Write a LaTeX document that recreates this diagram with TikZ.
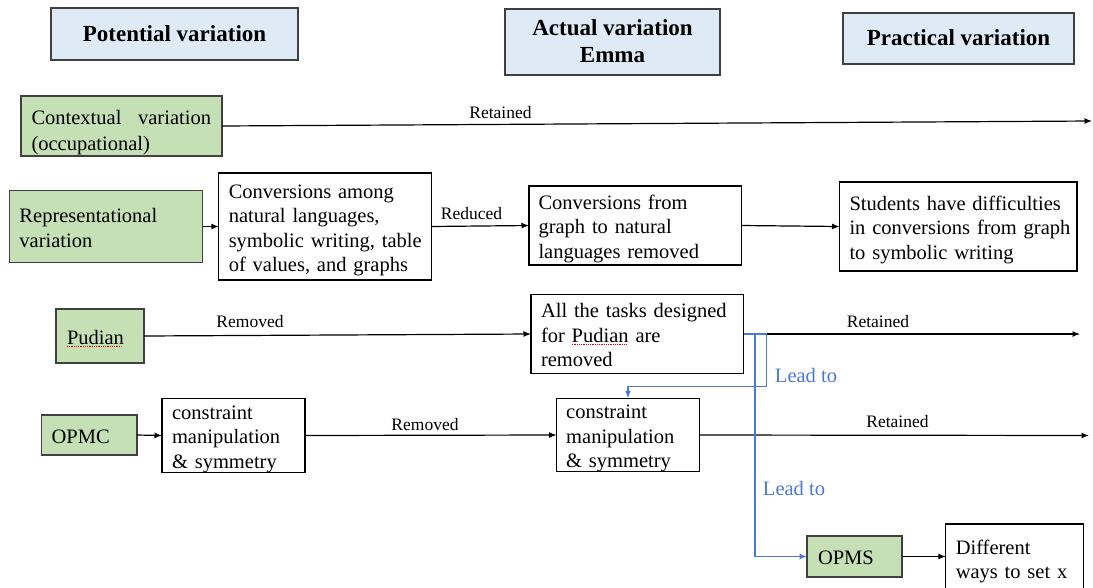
\documentclass[tikz,border=0pt]{standalone}
\usepackage{fontspec}
\setmainfont{Liberation Serif}
\usetikzlibrary{arrows.meta}
\definecolor{hdrfill}{HTML}{DEEBF7}
\definecolor{grnfill}{HTML}{C5E0B4}
\definecolor{linkblue}{HTML}{4A7BD0}
\definecolor{edgegray}{HTML}{404040}
\newsavebox\spbox
\newcommand\spellmark[1]{\sbox\spbox{#1}\rlap{\textcolor{red!85!black}{\leaders\hbox{\rule[-2.6pt]{1pt}{0.6pt}\kern0.8pt}\hskip\wd\spbox}}\usebox\spbox}
\newcommand\lns[2][-3.5pt]{\raisebox{#1}[\height][\depth]{\begin{tabular}{@{}l@{}}#2\end{tabular}}}
\newcommand\hdrtext[2][-2pt]{\raisebox{#1}[\height][\depth]{\begin{tabular}{@{}c@{}}#2\end{tabular}}}
\begin{document}
\begin{tikzpicture}[x=1pt,y=-1pt,
  every node/.style={inner sep=0pt,outer sep=0pt},
  hdrbox/.style={draw=edgegray,line width=1.4pt,fill=hdrfill,align=center,
    font=\fontsize{23}{27}\selectfont\bfseries},
  txt/.style={font=\fontsize{20.5}{24.5}\selectfont,align=left},
  wbox/.style={txt,draw=black,line width=1.3pt,fill=white},
  gbox/.style={txt,draw=edgegray,line width=1.4pt,fill=grnfill},
  lbl/.style={font=\fontsize{17.5}{20}\selectfont},
  bluelbl/.style={font=\fontsize{20.5}{24}\selectfont,text=linkblue},
  conn/.style={draw=black,line width=1.2pt,-{Latex[length=7.5pt,width=6pt]}},
  link/.style={draw=linkblue,line width=1.3pt,-{Latex[length=7.5pt,width=6pt]}}
]
\clip (0,0) rectangle (1093,587);
\fill[white] (0,0) rectangle (1093,587);

% headers
\node[hdrbox,minimum width=247pt,minimum height=52pt] (h1) at (174.5,34) {\hdrtext{Potential variation}};
\node[hdrbox,minimum width=215pt,minimum height=66pt] (h2) at (612.5,42) {\hdrtext{Actual variation\\Emma}};
\node[hdrbox,minimum width=231pt,minimum height=51pt] (h3) at (958.5,38.5) {\hdrtext[-1.5pt]{Practical variation}};

% row 1
\node[gbox,minimum width=201pt,minimum height=60pt,text width=180pt,
  font=\fontsize{20.5}{26.5}\selectfont] (ctx) at (121.5,126)
  {\lns[-6pt]{\makebox[179.5pt][l]{Contextual\hfill variation}\\(occupational)}};
\coordinate (ctxend) at (1092,121);

% row 2
\node[gbox,minimum width=193pt,minimum height=72pt,text width=173pt] (rep) at (106,226.5)
  {\lns{Representational\\variation}};
\node[wbox,minimum width=212.5pt,minimum height=107pt,text width=192.5pt] (conv) at (325,226.5)
  {\lns{Conversions among\\natural languages,\\symbolic writing, table\\of values, and graphs}};
\node[wbox,minimum width=212.5pt,minimum height=79pt,text width=193.5pt] (cgr) at (635.25,225.5)
  {\lns{Conversions from\\graph to natural\\languages removed}};
\node[wbox,minimum width=237.5pt,minimum height=89pt,text width=217.5pt] (stu) at (958.25,226.5)
  {\lns{Students have difficulties\\in conversions from graph\\to symbolic writing}};

% row 3
\node[gbox,minimum width=88pt,minimum height=54pt,text width=66pt] (pud) at (100,336)
  {\lns{\spellmark{Pudian}}};
\node[wbox,minimum width=212.5pt,minimum height=79pt,text width=192.5pt] (tasks) at (637.25,334)
  {\lns{All the tasks designed\\for \spellmark{Pudian} are\\removed}};
\coordinate (j1) at (755,334);
\coordinate (j2) at (766.5,334);
\coordinate (r3end) at (1080,334);

% row 4
\node[gbox,minimum width=95.3pt,minimum height=40pt,text width=75.3pt] (opmc) at (89.3,435)
  {\lns{OPMC}};
\node[wbox,minimum width=143pt,minimum height=73pt,text width=123pt] (cpot) at (233.5,435.5)
  {\lns{constraint\\manipulation\\\& symmetry}};
\node[wbox,minimum width=143pt,minimum height=73pt,text width=123.6pt] (cact) at (628,435)
  {\lns{constraint\\manipulation\\\& symmetry}};
\coordinate (r4end) at (1089,435.5);

% row 5
\node[gbox,minimum width=95pt,minimum height=41pt,text width=73pt] (opms) at (854.5,556.5)
  {\lns{OPMS}};
\node[wbox,minimum width=137.5pt,minimum height=68pt,text width=117.5pt] (diff) at (1014.5,558)
  {\lns{Different\\ways to set x}};

% connectors
\draw[conn] (ctx.east) -- (ctxend);
\draw[conn] (rep.east) -- (conv.west);
\draw[conn] (conv.east) -- (cgr.west);
\draw[conn] (cgr.east) -- (stu.west);
\draw[conn] (pud.east) -- (tasks.west);
\draw[conn] (j2) -- (r3end);
\draw[conn] (opmc.east) -- (cpot.west);
\draw[conn] (cpot.east) -- (cact.west);
\draw[conn] (cact.east) -- (r4end);
\draw[conn] (opms.east) -- (opms.east -| diff.west);

% blue links
\draw[link] (tasks.east) -- (j2) -- (766.5,386.5) -| (cact.north);
\draw[link] (j1) |- (opms.west);

% labels
\node[lbl] (lr1) at (500.5,112.5) {Retained};
\node[lbl] (lred) at (471.5,214) {Reduced};
\node[lbl] (lrem3) at (250,322) {Removed};
\node[lbl] (lret3) at (878,321.5) {Retained};
\node[lbl] (lrem4) at (425,425) {Removed};
\node[lbl] (lret4) at (897.5,422) {Retained};
\node[bluelbl] (lead1) at (806,375.5) {Lead to};
\node[bluelbl] (lead2) at (794,488.5) {Lead to};
\end{tikzpicture}
\end{document}
